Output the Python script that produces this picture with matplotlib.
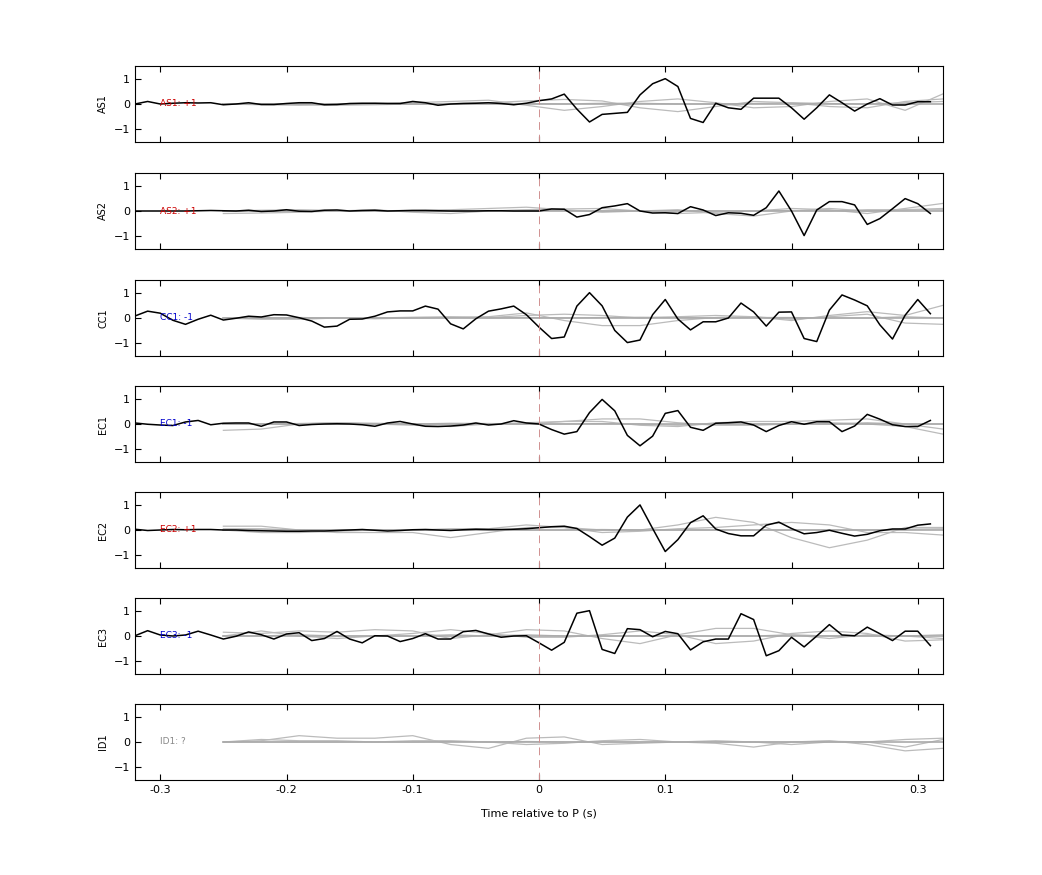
import numpy as np
import matplotlib
matplotlib.use("Agg")
import matplotlib.pyplot as plt

stations = ["AS1", "AS2", "CC1", "EC1", "EC2", "EC3", "ID1"]
polarity = ["+1", "+1", "-1", "-1", "+1", "-1", "?"]
t = np.round(np.arange(-0.32, 0.315, 0.01), 2)  # 64 samples

AS1 = [0.0,0.1,0.0,0.03,0.05,0.04,0.05,-0.03,0.0,0.05,-0.02,-0.02,0.02,0.05,0.05,-0.03,-0.02,0.02,0.03,0.03,0.02,0.02,0.1,0.05,-0.05,0.0,0.02,0.03,0.05,0.02,-0.03,0.03,
       0.13,0.2,0.39,-0.2,-0.71,-0.41,-0.37,-0.33,0.36,0.8,1.0,0.69,-0.57,-0.73,0.03,-0.15,-0.21,0.23,0.23,0.23,-0.15,-0.6,-0.15,0.36,0.05,-0.28,0.0,0.21,-0.04,-0.04,0.09,0.09]
AS2 = [0.0,0.0,0.0,0.0,0.0,0.01,0.02,0.01,0.0,0.03,-0.02,0.0,0.05,-0.01,-0.02,0.03,0.04,0.0,0.02,0.03,0.0,0.01,0.02,0.02,0.01,0.0,0.0,0.0,0.01,0.01,0.0,0.0,
       0.0,0.08,0.07,-0.24,-0.14,0.13,0.2,0.29,0.0,-0.08,-0.07,-0.1,0.17,0.04,-0.18,-0.07,-0.09,-0.17,0.13,0.79,0.0,-0.97,0.04,0.37,0.37,0.24,-0.53,-0.3,0.09,0.49,0.29,-0.1]
CC1 = [0.08,0.27,0.19,-0.09,-0.25,-0.05,0.11,-0.08,-0.01,0.07,0.04,0.13,0.12,0.01,-0.12,-0.36,-0.32,-0.05,-0.04,0.07,0.24,0.28,0.28,0.47,0.35,-0.23,-0.43,-0.03,0.27,0.36,0.47,0.13,
       -0.36,-0.81,-0.75,0.47,1.0,0.48,-0.49,-0.97,-0.87,0.13,0.73,-0.04,-0.47,-0.15,-0.15,0.0,0.59,0.24,-0.32,0.23,0.24,-0.81,-0.93,0.31,0.91,0.71,0.48,-0.27,-0.83,0.11,0.73,0.17]
EC1 = [0.04,-0.01,-0.04,-0.06,0.08,0.14,-0.03,0.03,0.04,0.04,-0.09,0.08,0.08,-0.06,-0.02,0.0,0.01,0.0,-0.03,-0.09,0.04,0.1,0.0,-0.09,-0.1,-0.08,-0.04,0.04,-0.04,0.0,0.13,0.04,
       0.0,-0.22,-0.4,-0.3,0.45,0.97,0.52,-0.45,-0.86,-0.48,0.42,0.53,-0.13,-0.25,0.03,0.05,0.08,-0.04,-0.3,-0.06,0.09,-0.01,0.09,0.09,-0.3,-0.08,0.38,0.19,-0.03,-0.1,-0.1,0.14]
EC2 = [0.03,-0.02,0.0,0.02,0.01,0.02,0.02,0.0,0.0,-0.02,-0.03,-0.04,-0.05,-0.05,-0.04,-0.04,-0.02,0.0,0.02,-0.01,-0.04,-0.02,0.01,0.02,0.0,-0.02,0.01,0.03,0.02,0.02,0.03,0.05,
       0.09,0.13,0.15,0.06,-0.26,-0.6,-0.32,0.51,0.99,0.06,-0.85,-0.38,0.29,0.56,0.04,-0.14,-0.23,-0.23,0.19,0.31,0.06,-0.15,-0.1,-0.01,-0.13,-0.24,-0.17,-0.03,0.04,0.04,0.19,0.24]
EC3 = [0.01,0.21,0.04,0.0,0.04,0.19,0.04,-0.12,-0.01,0.16,0.05,-0.12,0.08,0.13,-0.18,-0.1,0.18,-0.12,-0.27,0.01,0.0,-0.22,-0.1,0.09,-0.12,-0.12,0.17,0.22,0.08,-0.05,0.0,0.01,
       -0.27,-0.56,-0.25,0.9,1.0,-0.53,-0.69,0.29,0.25,-0.03,0.18,0.09,-0.55,-0.23,-0.12,-0.12,0.88,0.65,-0.78,-0.58,-0.05,-0.43,0.0,0.45,0.04,0.01,0.35,0.09,-0.18,0.19,0.19,-0.38]
black = [AS1, AS2, CC1, EC1, EC2, EC3, None]

# grey (synthetic) traces, sampled every 0.03 s from -0.25 s
tg = np.round(np.arange(-0.25, 0.325, 0.03), 2)
grey = {
 "AS1": [[0,0,-0.02,-0.05,-0.03,0,0.02,0.05,0.12,0.18,0.12,-0.15,-0.3,-0.1,0.1,0.05,-0.1,-0.15,0.1,0.2],
         [0,-0.03,-0.05,-0.02,0.02,0.05,0.1,0.15,-0.05,-0.25,-0.1,0.1,0.2,0.05,-0.15,-0.1,0.1,0.2,-0.25,0.4],
         [0,0.01,0,0,0.01,0,0,0.02,0.02,0,0.03,0.03,0,0,0.02,0.05,0.02,0,0.05,0.1]],
 "AS2": [[-0.1,-0.08,-0.05,0,0.05,-0.05,-0.1,0,0.05,0.08,0.1,0,-0.1,-0.05,0,0.1,0.05,-0.1,0.1,0.3],
         [0,0.03,0.05,0.02,0,0.03,0.05,0.1,0.15,0.05,-0.05,0,0.05,-0.1,-0.2,0,0.1,0,0.05,0.1],
         [0,0,0,0.01,0,0,0.01,0,0.03,0.02,0,0,0.02,0,0,0.02,0,0.05,0.05,0.05]],
 "CC1": [[0,0,0.02,0,-0.03,0,0.02,0.05,0.2,-0.1,-0.3,-0.3,-0.1,0.02,0.05,-0.1,0.1,0.25,0.1,0.5],
         [0,-0.05,-0.05,0,0,0.03,0.05,0.02,0.1,0.15,0.1,0,0.05,0.1,0.05,-0.05,0.05,0.15,-0.2,-0.25],
         [0,0,0,0,0,0,0.02,0,0.02,0,0.02,0.03,0.02,0,0.02,0.02,0,0,0.05,0]],
 "EC1": [[-0.25,-0.2,0,0.05,0,-0.05,-0.1,0,0.05,0.1,0.2,0.2,0.05,-0.05,-0.05,0,0.05,0,-0.1,-0.4],
         [0,0,0.02,0.05,0.03,0,0.03,0.02,0,0.1,0.1,-0.05,-0.1,0.05,0.1,0.1,0.15,0.2,0,-0.2],
         [0,0,0,0,0,0,0,0,0,0,0.02,0,-0.05,0,0,0,0,0.05,0,0]],
 "EC2": [[0.15,0.15,0,-0.1,-0.1,-0.1,-0.3,-0.1,0.1,0.1,0,0,0.2,0.5,0.3,-0.3,-0.7,-0.4,0.1,0.1],
         [0,-0.1,-0.1,-0.05,0,0,0.05,0.05,0.2,0.1,-0.1,-0.05,0.05,0.1,0.2,0.3,0.2,-0.1,-0.1,-0.2],
         [0.05,0.05,0,0,0,0,0,0,0,0,0.02,0,0,0,0,0,0,0,0.03,0.05]],
 "EC3": [[0.15,0.1,0.2,0.15,0.25,0.2,-0.1,0.05,0.25,0.2,-0.1,-0.3,0.05,0.3,0.3,0.05,-0.1,0.05,0,-0.1],
         [0,0.2,0,-0.1,0,0.1,0.25,0.1,-0.05,-0.05,0.05,0.2,0.05,-0.3,-0.2,0.1,0.2,0.1,-0.2,-0.15],
         [0,0,0.05,0,0,0,0.05,0,0.05,0,0,0,0,0,0,0.05,0,0,0,0.05]],
 "ID1": [[0,0.05,0.25,0.15,0.15,0.25,-0.1,-0.25,0.15,0.2,-0.1,-0.05,0.0,0.05,0,-0.1,0.0,0.0,-0.2,0.1],
         [0,0.1,0.05,0.05,0,0.05,0.05,0,-0.1,-0.05,0.05,0.1,0,-0.05,-0.2,0,0.05,-0.1,-0.35,-0.25],
         [0,0,0,0,0,0,0.02,0,0.02,0,0,0,0,0,0,0,0.03,0,0.1,0.15]],
}
lab_col = {"+1": "#cc0000", "-1": "#0000cc", "?": "#888888"}

fig = plt.figure(figsize=(10.42, 8.75), dpi=100)
tops = [66, 173, 280, 386, 492, 598, 704]
H = 76
L, R = 135, 943
for i, st in enumerate(stations):
    ax = fig.add_axes([L/1042, 1 - (tops[i]+H)/875, (R-L)/1042, H/875])
    for g in grey[st]:
        ax.plot(tg, g, color="#bbbbbb", lw=0.9)
    ax.plot(tg, np.zeros_like(tg), color="#aaaaaa", lw=1.2)
    if black[i] is not None:
        ax.plot(t, black[i], color="black", lw=1.1)
    ax.axvline(0, color="#d09090", lw=0.7, ls=(0, (8, 5)))
    ax.text(-0.30, 0, f"{st}: {polarity[i]}", color=lab_col[polarity[i]], fontsize=6.5, va="center", ha="left")
    ax.set_xlim(-0.32, 0.32)
    ax.set_ylim(-1.5, 1.5)
    ax.set_yticks([-1, 0, 1])
    ax.set_xticks([-0.3, -0.2, -0.1, 0, 0.1, 0.2, 0.3])
    ax.tick_params(direction="in", top=True, right=False, labelsize=8, length=4)
    ax.set_ylabel(st, fontsize=7)
    if i < len(stations) - 1:
        ax.set_xticklabels([])
    else:
        ax.set_xticklabels(["-0.3", "-0.2", "-0.1", "0", "0.1", "0.2", "0.3"])
        ax.set_xlabel("Time relative to P (s)", fontsize=8, labelpad=10)
fig.savefig("out.png", dpi=100)
